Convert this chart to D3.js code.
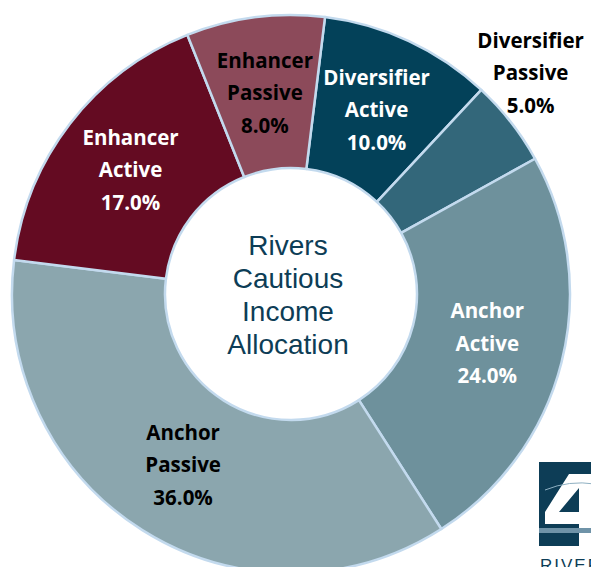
<!DOCTYPE html>
<html>
<head>
<meta charset="utf-8">
<script src="https://cdn.jsdelivr.net/npm/d3@7"></script>
<style>
  html, body { margin: 0; padding: 0; background: #ffffff; overflow: hidden; }
  svg { display: block; }
</style>
</head>
<body>
<svg id="donut"></svg>
<script>
// Slice data, clockwise from the top
var categories = ["Diversifier Active", "Diversifier Passive", "Anchor Active", "Anchor Passive", "Enhancer Active", "Enhancer Passive"];
var shares = [10, 5, 24, 36, 17, 8];
var sliceColors = ["#034159", "#33677a", "#6e919c", "#8ba6ae", "#640b22", "#8c4a5a"];
var labelColors = ["#ffffff", "#000000", "#ffffff", "#000000", "#ffffff", "#000000"];
var centerLines = ["Rivers", "Cautious", "Income", "Allocation"];

var dimensions = {
    width: 591,
    height: 567,
    cx: 291,
    cy: 294,
    outer: 279,
    inner: 126
};

var data = categories.map(function(c, i) {
    return { name: c, value: shares[i], color: sliceColors[i], textColor: labelColors[i] };
});

var svg = d3.select("#donut")
    .attr("width", dimensions.width)
    .attr("height", dimensions.height);

var g = svg.append("g")
    .attr("transform", "translate(" + dimensions.cx + "," + dimensions.cy + ")");

// Start a little right of twelve o'clock, like the original
var start = 7 * Math.PI / 180;
var pie = d3.pie()
    .sort(null)
    .value(function(d) { return d.value; })
    .startAngle(start)
    .endAngle(start + 2 * Math.PI);

var arc = d3.arc()
    .innerRadius(dimensions.inner)
    .outerRadius(dimensions.outer);

var arcs = pie(data);

g.selectAll("path.slice")
    .data(arcs)
    .enter()
    .append("path")
    .attr("class", "slice")
    .attr("d", arc)
    .attr("fill", function(d) { return d.data.color; })
    .attr("stroke", "#c3daee")
    .attr("stroke-width", 2.5)
    .attr("stroke-linejoin", "round");

// Slice labels: name split on two lines plus the percentage
var fmt = d3.format(".1f");
var outsideArc = d3.arc().innerRadius(322).outerRadius(322);

var labels = g.selectAll("text.label")
    .data(arcs)
    .enter()
    .append("text")
    .attr("class", "label")
    .attr("transform", function(d) {
        if (d.data.value < 6) {
            var p = outsideArc.centroid({ startAngle: d.startAngle - 0.14, endAngle: d.endAngle - 0.14 });
            return "translate(" + (p[0] + 16) + "," + (p[1] + 11) + ")";
        }
        return "translate(" + arc.centroid(d) + ")";
    })
    .attr("text-anchor", "middle")
    .style("font-family", "'Open Sans', Lato, sans-serif")
    .style("font-weight", "bold")
    .style("font-size", "20.5px")
    .attr("fill", function(d) { return d.data.textColor; });

labels.each(function(d) {
    var parts = d.data.name.split(" ");
    parts.push(fmt(d.data.value) + "%");
    var t = d3.select(this);
    parts.forEach(function(p, i) {
        t.append("tspan")
            .attr("x", 0)
            .attr("y", (i - 1) * 32.5 + 7)
            .text(p);
    });
});

// Centre caption
g.append("text")
    .attr("text-anchor", "middle")
    .style("font-family", "'Liberation Sans', Arial, sans-serif")
    .style("font-size", "28px")
    .attr("fill", "#0d3d56")
    .selectAll("tspan")
    .data(centerLines)
    .enter()
    .append("tspan")
    .attr("x", -3)
    .attr("y", function(d, i) { return (i - 1.5) * 33 + 10; })
    .text(function(d) { return d; });

// Corner logo (partly cut off, as in the source)
var logo = svg.append("g").attr("transform", "translate(539,462)");
logo.append("rect")
    .attr("width", 60)
    .attr("height", 84)
    .attr("fill", "#0d3d56");
logo.append("path")
    .attr("d", "M30,12 L52,12 L52,84 L40,84 L40,62 L6,62 L6,50 Z M40,26 L20,50 L40,50 Z")
    .attr("fill", "#ffffff")
    .attr("fill-rule", "evenodd");
logo.append("path")
    .attr("d", "M6,28 Q30,18 56,22")
    .attr("stroke", "#8fb0c2")
    .attr("stroke-width", 1)
    .attr("fill", "none");
logo.append("rect")
    .attr("y", 66)
    .attr("width", 60)
    .attr("height", 5)
    .attr("fill", "#6f93a8");
svg.append("text")
    .attr("x", 540)
    .attr("y", 571)
    .style("font-family", "'Liberation Sans', Arial, sans-serif")
    .style("font-size", "17px")
    .style("letter-spacing", "2px")
    .attr("fill", "#0d3d56")
    .text("RIVERS");
</script>
</body>
</html>
